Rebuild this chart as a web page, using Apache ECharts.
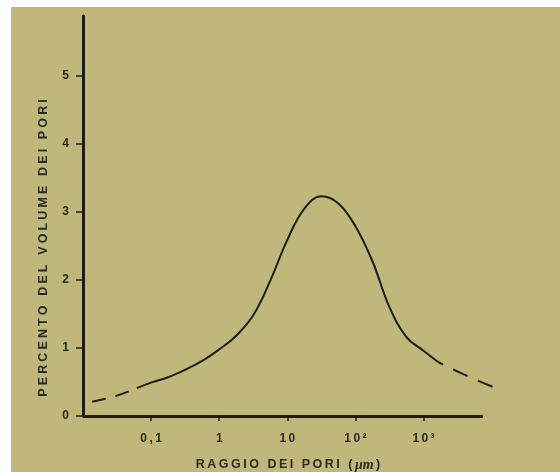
<!DOCTYPE html>
<html>
<head>
<meta charset="utf-8">
<script src="https://cdn.jsdelivr.net/npm/echarts@6/dist/echarts.min.js"></script>
<style>
  html, body { margin: 0; padding: 0; background: #fff; }
  #chart { position: absolute; left: 11px; top: 7px; width: 549px; height: 465px; background: #c0b87a; }
</style>
</head>
<body>
<div id="chart"></div>
<script>
// raggio dei pori (µm) e percento del volume
var solidRadius = [0.0617, 0.1, 0.178, 0.316, 0.562, 1, 1.78, 3.16, 5.62, 10, 17.8, 31.6, 56.2, 100, 178, 316, 562, 1000, 1660];
var solidValues = [0.41, 0.49, 0.57, 0.68, 0.81, 0.98, 1.18, 1.48, 1.99, 2.59, 3.05, 3.23, 3.125, 2.79, 2.275, 1.60, 1.16, 0.96, 0.79];
var leftRadius = [0.0136, 0.0295, 0.0617];
var leftValues = [0.21, 0.29, 0.41];
// tratto destro, da destra verso sinistra
var rightRadius = [10300, 4130, 1660];
var rightValues = [0.43, 0.60, 0.79];
var tickExps = [-1, 0, 1, 2, 3];
var tickLabels = ['0,1', '1', '10', '10²', '10³'];
// estensione della linea dell'asse x (esponenti)
var axisExtent = [-2, 3.87];

var ink = '#1e1c14';
var textInk = '#2b2a20';

function spaced(str, sp) {
  return str.split('').join(sp);
}
function pairs(rad, val) {
  return rad.map(function (r, i) { return [Math.log10(r), val[i]]; });
}

var chart = echarts.init(document.getElementById('chart'));
var option = {
  backgroundColor: 'transparent',
  animation: false,
  grid: { left: 72, right: 67, top: 9, bottom: 56, outerBoundsMode: 'none', containLabel: false },
  xAxis: {
    type: 'value',
    min: -2,
    max: 4.02,
    name: spaced('RAGGIO DEI PORI (', '\u2009') + '\u2009{i|\u03bcm}\u2009)',
    nameLocation: 'middle',
    nameGap: 42,
    nameTextStyle: {
      color: textInk, fontFamily: 'Liberation Sans', fontWeight: 'bold', fontSize: 12.5,
      rich: { i: { fontStyle: 'italic', fontFamily: 'Liberation Serif', fontSize: 14, color: textInk } }
    },
    axisLine: { show: false, onZero: false },
    axisTick: { show: true, length: 5, lineStyle: { color: ink, width: 1.5 }, customValues: tickExps },
    axisLabel: {
      customValues: tickExps,
      margin: 17,
      color: textInk, fontFamily: 'Liberation Sans', fontWeight: 'bold', fontSize: 12,
      formatter: function (v) {
        var i = tickExps.indexOf(Math.round(v));
        return i < 0 ? '' : spaced(tickLabels[i], '\u2009');
      }
    },
    splitLine: { show: false }
  },
  yAxis: {
    type: 'value',
    min: 0,
    max: 5.88,
    interval: 1,
    name: spaced('PERCENTO DEL VOLUME DEI PORI', '\u2005'),
    nameLocation: 'middle',
    nameGap: 33,
    nameTextStyle: {
      color: textInk, fontFamily: 'Liberation Sans', fontWeight: 'bold', fontSize: 12.5,
      padding: [0, 64, 0, 0]
    },
    axisLine: { show: true, onZero: false, lineStyle: { color: ink, width: 3 } },
    axisTick: { show: true, length: 7, lineStyle: { color: ink, width: 1.5 } },
    axisLabel: {
      margin: 14,
      color: textInk, fontFamily: 'Liberation Sans', fontWeight: 'bold', fontSize: 12,
      showMaxLabel: false
    },
    splitLine: { show: false }
  },
  series: [
    {
      type: 'line', data: pairs(solidRadius, solidValues), smooth: 0.4, symbol: 'none', clip: false,
      lineStyle: { color: ink, width: 2 },
      markLine: {
        silent: true, symbol: 'none', label: { show: false },
        lineStyle: { color: ink, width: 3, type: 'solid' },
        data: [[{ coord: [axisExtent[0], 0] }, { coord: [axisExtent[1], 0] }]]
      }
    },
    {
      type: 'line', data: pairs(leftRadius, leftValues), smooth: 0.4, symbol: 'none', clip: false,
      lineStyle: { color: ink, width: 2, type: [14, 10] }
    },
    {
      type: 'line', data: pairs(rightRadius, rightValues), smooth: 0.4, symbol: 'none', clip: false,
      lineStyle: { color: ink, width: 2, type: [16, 11] }
    }
  ]
};
chart.setOption(option);
</script>
</body>
</html>
